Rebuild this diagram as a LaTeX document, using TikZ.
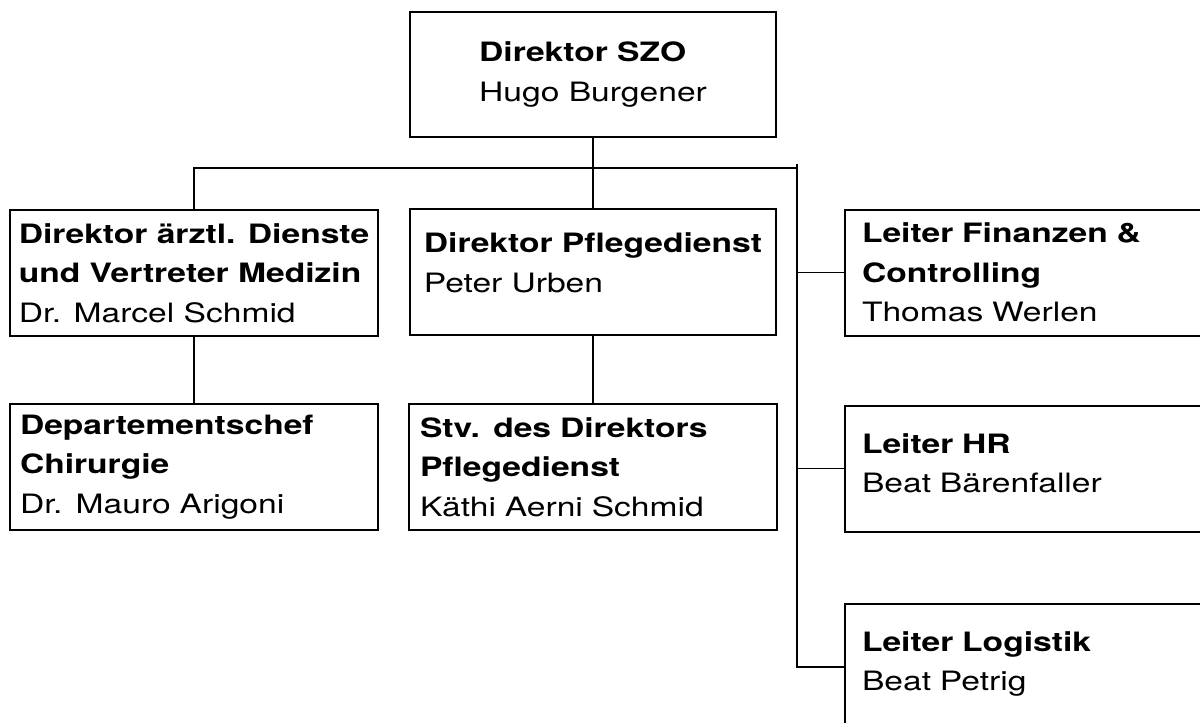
\documentclass[tikz,border=0pt]{standalone}
\usepackage{fontspec}
\setmainfont[FakeStretch=1.26]{TeX Gyre Heros}
\usetikzlibrary{calc}

\begin{document}
\begin{tikzpicture}[
    x=0.75pt, y=-0.75pt,
    font=\fontsize{20}{29.5}\selectfont,
    box/.style={draw, line width=1.5pt, minimum width=276pt, minimum height=94.5pt, align=left},
    leftbox/.style={box, text width=261pt, inner xsep=7.5pt},
    sidebox/.style={box, text width=252pt, inner xsep=12.75pt},
    twoline/.style={text depth=14pt},
    sidetwo/.style={text depth=38pt},
    link/.style={line width=0.9pt}
  ]
  \useasboundingbox (0,0) rectangle (1200,722);
  \clip (0,0) rectangle (1200,722);

  % Direktion
  \node[box, minimum width=274.5pt, minimum height=93.75pt] (szo) at (593,74.5)
    {\textbf{Direktor SZO}\\Hugo Burgener};

  % Medizin und Pflege
  \node[box] (aerzt) at (194,273)
    {\textbf{Direktor ärztl. Dienste}\\\textbf{und Vertreter Medizin}\\Dr. Marcel Schmid};
  \node[box, minimum width=274.5pt, twoline] (pflege) at (593,272)
    {\textbf{Direktor Pflegedienst}\\Peter Urben};
  \node[leftbox] (chir) at (194,467)
    {\textbf{Departementschef}\\\textbf{Chirurgie}\\Dr. Mauro Arigoni};
  \node[leftbox, text width=259.5pt] (stv) at (593,467)
    {\textbf{Stv. des Direktors}\\\textbf{Pflegedienst}\\Käthi Aerni Schmid};

  % Stab
  \node[sidebox] (fin) at (1030,272.5)
    {\textbf{Leiter Finanzen \&}\\\textbf{Controlling}\\Thomas Werlen};
  \node[sidebox, sidetwo] (hr) at (1030,468.5)
    {\textbf{Leiter HR}\\Beat Bärenfaller};
  \node[sidebox, sidetwo] (log) at (1030,667)
    {\textbf{Leiter Logistik}\\Beat Petrig};

  % Verbindungen
  \coordinate (spine) at (797,168);
  \draw[link] (szo.south) -- (pflege.north);
  \draw[link] (aerzt.north) |- (spine);
  \draw[link] ($(spine)+(0,-4)$) -- (spine |- log.west) -- (log.west);
  \draw[link] (spine |- fin.west) -- (fin.west);
  \draw[link] (spine |- hr.west) -- (hr.west);
  \draw[link] (aerzt.south) -- (chir.north);
  \draw[link] (pflege.south) -- (stv.north);
\end{tikzpicture}
\end{document}
